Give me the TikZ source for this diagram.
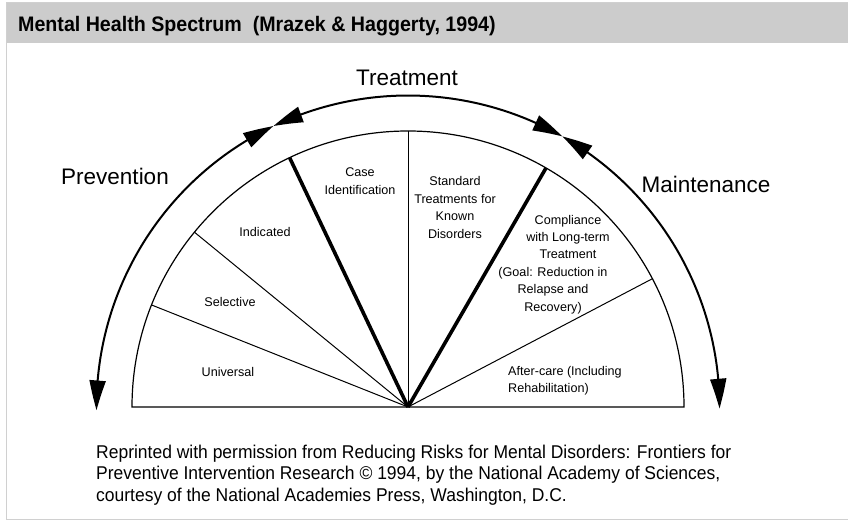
\documentclass[tikz,border=0pt]{standalone}
\usepackage{fontspec}
\setmainfont{Liberation Sans}
\newfontfamily\titlefont[FakeStretch=0.935]{Liberation Sans}
\newfontfamily\notefont[FakeStretch=0.945]{Liberation Sans}
\usetikzlibrary{arrows.meta,bending}
\definecolor{hdr}{HTML}{CCCCCC}
\definecolor{frm}{HTML}{D0D0D0}
\tikzset{
  semi/.style={line width=1.2pt},
  spoke/.style={line width=1pt},
  boldspoke/.style={line width=3.6pt},
  outer/.style={line width=2pt,{Triangle[length=30pt,width=16pt,bend]}-{Triangle[length=30pt,width=16pt,bend]}},
  big/.style={font=\fontsize{22.5}{26}\selectfont},
  small/.style={font=\fontsize{12.6}{17.4}\selectfont,align=center,inner sep=0pt},
  note/.style={font=\notefont\fontsize{18.5}{21.5}\selectfont,anchor=base west,inner sep=0pt}
}
\begin{document}
\begin{tikzpicture}[x=1pt,y=1pt]
\useasboundingbox (0,0) rectangle (848,520);
% frame and header
\fill[hdr] (6,477) rectangle (850,517);
\draw[frm,line width=1pt] (850,517) -- (6,517) -- (6,1) -- (850,1);
\node[anchor=base west,inner sep=0pt,font=\titlefont\bfseries\fontsize{21}{24}\selectfont] (title) at (18,488) {Mental Health Spectrum\ \ (Mrazek \& Haggerty, 1994)};
% semicircle
\coordinate (O) at (408,113);
\draw[semi] ([shift={(180:276)}]O) -- ([shift={(0:276)}]O) arc[start angle=0,end angle=180,radius=276] -- cycle;
\foreach \a in {27.7,90,140.7,158.3} \draw[spoke] (O) -- ++(\a:276);
\foreach \a in {60,115.4} \draw[boldspoke] (O) -- ++(\a:276);
% outer arcs
\draw[outer] ([shift={(115.6:311.5)}]O) arc[start angle=115.6,end angle=180.6,radius=311.5];
\draw[outer] ([shift={(60.3:311.5)}]O) arc[start angle=60.3,end angle=115.6,radius=311.5];
\draw[outer] ([shift={(-0.3:311.5)}]O) arc[start angle=-0.3,end angle=60.3,radius=311.5];
% big labels
\node[big,anchor=base] (treat) at (407,434) {Treatment};
\node[big,anchor=base] (prev) at (115,335) {Prevention};
\node[big,anchor=base] (maint) at (706,327) {Maintenance};
% sector labels
\node[small] (univ) at (228,148) {Universal};
\node[small] (sel) at (230,218.3) {Selective};
\node[small] (ind) at (265,288.3) {Indicated};
\node[small] (case) at (360,338.7) {Case\\Identification};
\node[small] (std) at (455,312.5) {Standard\\Treatments for\\Known\\Disorders};
\node[small] (comp) at (568,283) {Compliance\\with Long-term\\Treatment};
\node[small] (goal) at (553,229.3) {(Goal: Reduction in\\Relapse and\\Recovery)};
\node[small,align=left,anchor=north west] (after) at (508,154) {After-care (Including\\Rehabilitation)};
% footnote
\node[note] (n1) at (96,62) {Reprinted with permission from Reducing Risks for Mental Disorders: Frontiers for};
\node[note] (n2) at (96,40.5) {Preventive Intervention Research \textcopyright{} 1994, by the National Academy of Sciences,};
\node[note] (n3) at (96,19) {courtesy of the National Academies Press, Washington, D.C.};
\end{tikzpicture}
\end{document}
